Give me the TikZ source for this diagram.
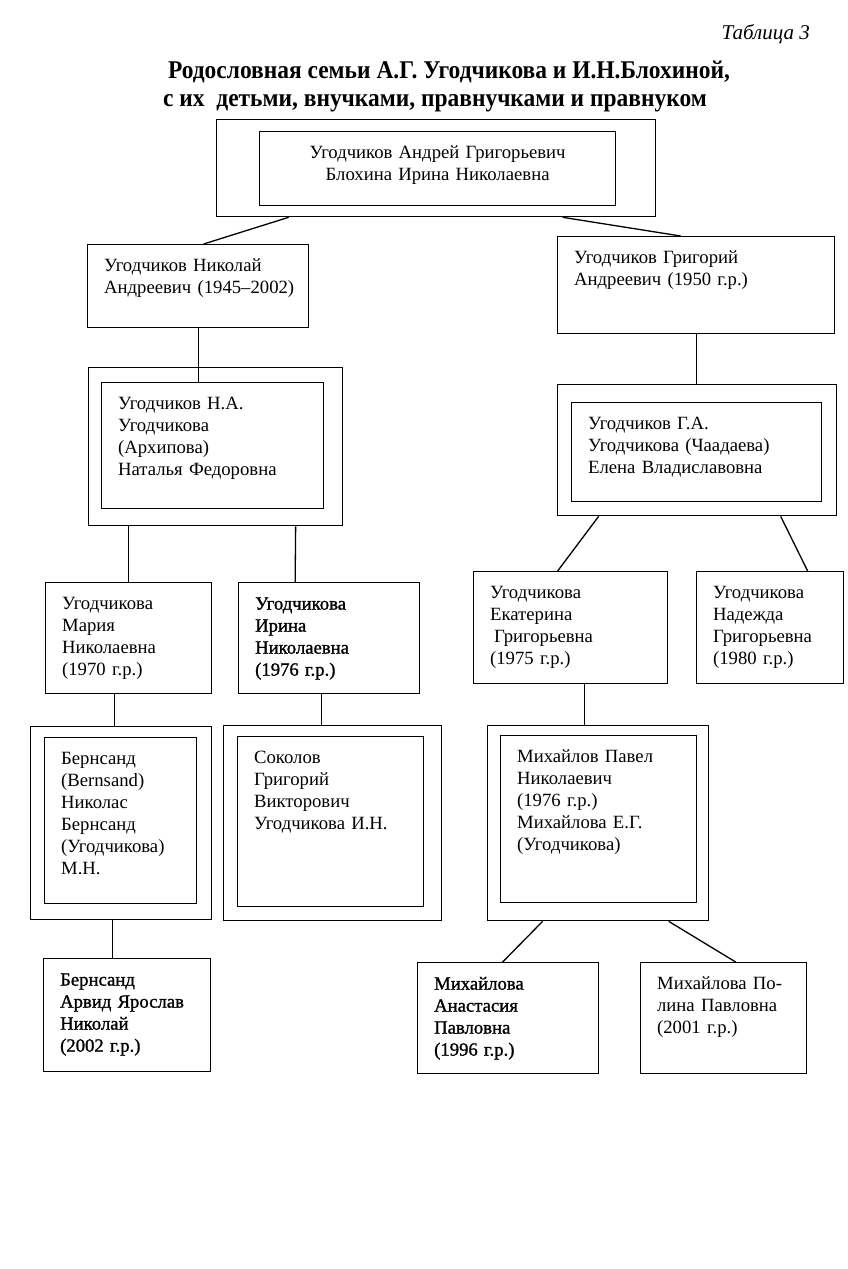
\documentclass[tikz,border=0pt]{standalone}
\usepackage{fontspec}
\setmainfont{Liberation Serif}
\newfontfamily\inkfont{Liberation Serif}[FakeBold=1.2]
\usepackage{tikz}

\begin{document}
\begin{tikzpicture}[x=1pt, y=-1pt,
    kin/.style={draw, line width=1.3pt, anchor=north west, align=left,
        inner xsep=16.5pt, inner ysep=0pt, text height=27pt,
        font=\fontsize{18.7}{22}\selectfont},
    ink/.style={font=\inkfont\fontsize{18.7}{22}\selectfont},
    pairframe/.style={draw, line width=1.3pt, anchor=north west, inner sep=0pt},
    headline/.style={anchor=base, inner sep=0pt, xscale=0.92, font=\fontsize{25.5}{28}\selectfont\bfseries},
    tie/.style={line width=1.3pt}]
    % Page
    \fill[white] (0,0) rectangle (848,1269);

    % Heading
    \node[anchor=base east, inner sep=0pt, font=\fontsize{21}{25}\selectfont\itshape] (tabno) at (810,39) {Таблица 3};
    \node[headline] (head1) at (449,78) {Родословная семьи А.Г. Угодчикова и И.Н.Блохиной,};
    \node[headline] (head2) at (435,106) {с их~~детьми, внучками, правнучками и правнуком};

    % Root couple
    \node[pairframe, minimum width=439pt, minimum height=97pt] (rootF) at (216,119) {};
    \node[kin, align=center, text width=323pt, text depth=47pt] (root) at (259,131) {Угодчиков Андрей Григорьевич\\Блохина Ирина Николаевна};

    % Sons
    \node[kin, text width=188pt, text depth=56pt] (nik) at (87,244) {Угодчиков Николай\\\mbox{Андреевич (1945--2002)}};
    \node[kin, text width=244pt, text depth=70pt] (gri) at (557,236) {Угодчиков Григорий\\Андреевич (1950 г.р.)};
    \draw[tie] ([xshift=-147.5pt]rootF.south) -- ([xshift=5.5pt]nik.north);
    \draw[tie] ([xshift=126.5pt]rootF.south) -- ([xshift=-15.5pt]gri.north);

    % Sons with wives
    \node[pairframe, minimum width=254pt, minimum height=158pt] (nikF) at (88,367) {};
    \node[kin, text width=189pt, text depth=99pt] (nikP) at (101,382) {Угодчиков Н.А.\\Угодчикова\\(Архипова)\\Наталья Федоровна};
    \draw[tie] (nik.south) -- (nik.south |- nikP.north);

    \node[pairframe, minimum width=279pt, minimum height=131pt] (griF) at (557,384) {};
    \node[kin, text width=217pt, text depth=72pt] (griP) at (571,402) {Угодчиков Г.А.\\Угодчикова (Чаадаева)\\Елена Владиславовна};
    \draw[tie] (gri.south) -- (gri.south |- griF.north);

    % Granddaughters
    \node[kin, text width=133pt, text depth=84pt] (maria) at (45,582) {Угодчикова\\Мария\\Николаевна\\(1970 г.р.)};
    \node[kin, ink, text width=148pt, text depth=84pt] (irina) at (238,582) {Угодчикова\\Ирина\\Николаевна\\(1976 г.р.)};
    \node[kin, text width=161pt, text depth=85pt] (ekat) at (473,571) {Угодчикова\\Екатерина\\\hspace*{4pt}Григорьевна\\(1975 г.р.)};
    \node[kin, text width=114pt, text depth=85pt] (nadia) at (696,571) {Угодчикова\\Надежда\\Григорьевна\\(1980 г.р.)};
    \draw[tie] (maria.north |- nikF.south) -- (maria.north);
    \draw[tie] ([xshift=80pt]nikF.south) -- ([xshift=-34pt]irina.north);
    \draw[tie] ([xshift=-98.5pt]griF.south) -- ([xshift=-13pt]ekat.north);
    \draw[tie] ([xshift=83.5pt]griF.south) -- ([xshift=37.5pt]nadia.north);

    % Granddaughters with husbands
    \node[pairframe, minimum width=181pt, minimum height=193pt] (bernF) at (30,726) {};
    \node[kin, text width=119pt, text depth=139pt] (bernP) at (44,737) {Бернсанд\\(Bernsand)\\Николас\\Бернсанд\\(Угодчикова)\\М.Н.};
    \node[pairframe, minimum width=218pt, minimum height=195pt] (sokoF) at (223,725) {};
    \node[kin, text width=153pt, text depth=143pt] (sokoP) at (237,736) {Соколов\\Григорий\\Викторович\\Угодчикова И.Н.};
    \node[pairframe, minimum width=221pt, minimum height=195pt] (mikhF) at (487,725) {};
    \node[kin, text width=163pt, text depth=140pt] (mikhP) at (500,735) {Михайлов Павел\\Николаевич\\(1976 г.р.)\\Михайлова Е.Г.\\(Угодчикова)};
    \draw[tie] ([xshift=-14pt]maria.south) -- ([xshift=-6.5pt]bernF.north);
    \draw[tie] ([xshift=-7.5pt]irina.south) -- ([xshift=-11pt]sokoF.north);
    \draw[tie] ([xshift=14pt]ekat.south) -- ([xshift=-13.5pt]mikhF.north);

    % Great-grandchildren
    \node[kin, ink, text width=134pt, text depth=86pt] (arvid) at (43,958) {Бернсанд\\Арвид Ярослав\\Николай\\(2002 г.р.)};
    \node[kin, ink, text width=148pt, text depth=84pt] (anast) at (417,962) {Михайлова\\Анастасия\\Павловна\\(1996 г.р.)};
    \node[kin, text width=133pt, text depth=84pt] (polina) at (640,962) {Михайлова По-\\лина Павловна\\(2001 г.р.)};
    \draw[tie] ([xshift=-8.5pt]bernF.south) -- ([xshift=-14.5pt]arvid.north);
    \draw[tie] ([xshift=-55.5pt]mikhF.south) -- ([xshift=-5.5pt]anast.north);
    \draw[tie] ([xshift=70.5pt]mikhF.south) -- ([xshift=12pt]polina.north);
\end{tikzpicture}
\end{document}
